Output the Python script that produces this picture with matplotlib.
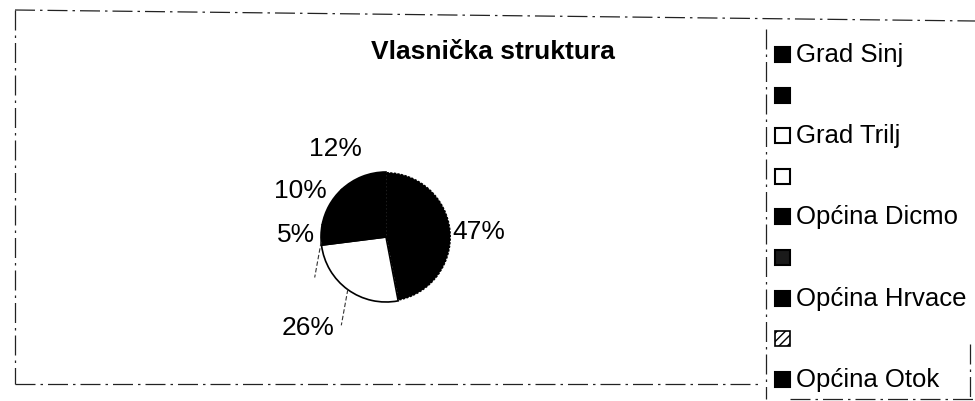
import numpy as np
import matplotlib
matplotlib.use("Agg")
import matplotlib.pyplot as plt
from matplotlib.lines import Line2D
from matplotlib.patches import Rectangle

plt.rcParams['font.family'] = ['Liberation Sans', 'DejaVu Sans']

# Data
shares = [47, 26, 5, 10, 12]
pct_labels = ["47%", "26%", "5%", "10%", "12%"]
slice_colors = ["black", "white", "black", "black", "black"]
label_dist = [1.43, 1.83, 1.39, 1.50, 1.57]
label_shift = [-2, -5, 0, 0, 8]  # degrees, nudges as in the original

legend_labels = ["Grad Sinj", "", "Grad Trilj", "", "Općina Dicmo", "",
                 "Općina Hrvace", "", "Općina Otok"]
legend_fills = ["black", "black", "white", "white", "black", "#1a1a1a",
                "black", "hatch", "black"]

W, H = 975, 402
fig = plt.figure(figsize=(W / 100, H / 100), dpi=100)


def fx(px):
    return px / W


def fy(py):
    return 1 - py / H


# Frame lines (dashed, scanned look)
def fline(xs, ys, **kw):
    style = dict(color="#222222", lw=0.9, ls=(0, (16, 4, 2, 4)))
    style.update(kw)
    fig.add_artist(Line2D([fx(x) for x in xs], [fy(y) for y in ys],
                          transform=fig.transFigure, **style))


fline([15, 975], [11, 22])
fline([15, 15], [11, 385])
fline([15, 760], [385, 385])
fline([766, 766], [30, 400])
fline([790, 975], [400, 400])
fline([970, 970], [345, 400])

# Title
fig.text(fx(493), fy(52), "Vlasnička struktura", ha="center", va="center",
         fontsize=19, fontweight="bold")

# Pie
cx, cy, r = 386, 238, 65
ax = fig.add_axes([fx(cx - r), fy(cy + r), fx(2 * r), 2 * r / H])
wedges, _ = ax.pie(shares, colors=slice_colors, startangle=90, counterclock=False,
                   radius=1, wedgeprops=dict(edgecolor="black", linewidth=1.2))
ax.set_xlim(-1, 1)
ax.set_ylim(-1, 1)
ax.axis("off")
wedges[0].set_edgecolor("white")
wedges[0].set_linestyle(":")
wedges[0].set_linewidth(1.0)
wedges[0].set_zorder(1)
for w in wedges[1:]:
    w.set_zorder(2)

for w, lab, d, s in zip(wedges, pct_labels, label_dist, label_shift):
    ang = np.deg2rad((w.theta1 + w.theta2) / 2 + s)
    ax.text(d * np.cos(ang), d * np.sin(ang), lab, ha="center", va="center",
            fontsize=19, clip_on=False)

# Leader lines for the small left slice and the white slice
for w, drop in [(wedges[2], 0.55), (wedges[1], 0.55)]:
    ang = np.deg2rad((w.theta1 + w.theta2) / 2 + (6 if w is wedges[2] else 0))
    x0, y0 = np.cos(ang), np.sin(ang)
    ax.plot([x0, x0 - 0.1], [y0, y0 - drop], color="#333333", lw=0.8,
            ls=(0, (4, 2)), clip_on=False)

# Legend drawn as rows
row0, step = 55, 40.6
for i, (lab, fill) in enumerate(zip(legend_labels, legend_fills)):
    y = row0 + i * step
    if fill == "hatch":
        rect = Rectangle((fx(775), fy(y + 8)), fx(15), 15 / H, facecolor="white",
                         edgecolor="black", hatch="////", lw=1.2,
                         transform=fig.transFigure)
    else:
        rect = Rectangle((fx(775), fy(y + 8)), fx(15), 15 / H, facecolor=fill,
                         edgecolor="black", lw=1.5, transform=fig.transFigure)
    fig.add_artist(rect)
    if lab:
        fig.text(fx(796), fy(y), lab, ha="left", va="center", fontsize=18.5)

fig.savefig("out.png", dpi=100)
